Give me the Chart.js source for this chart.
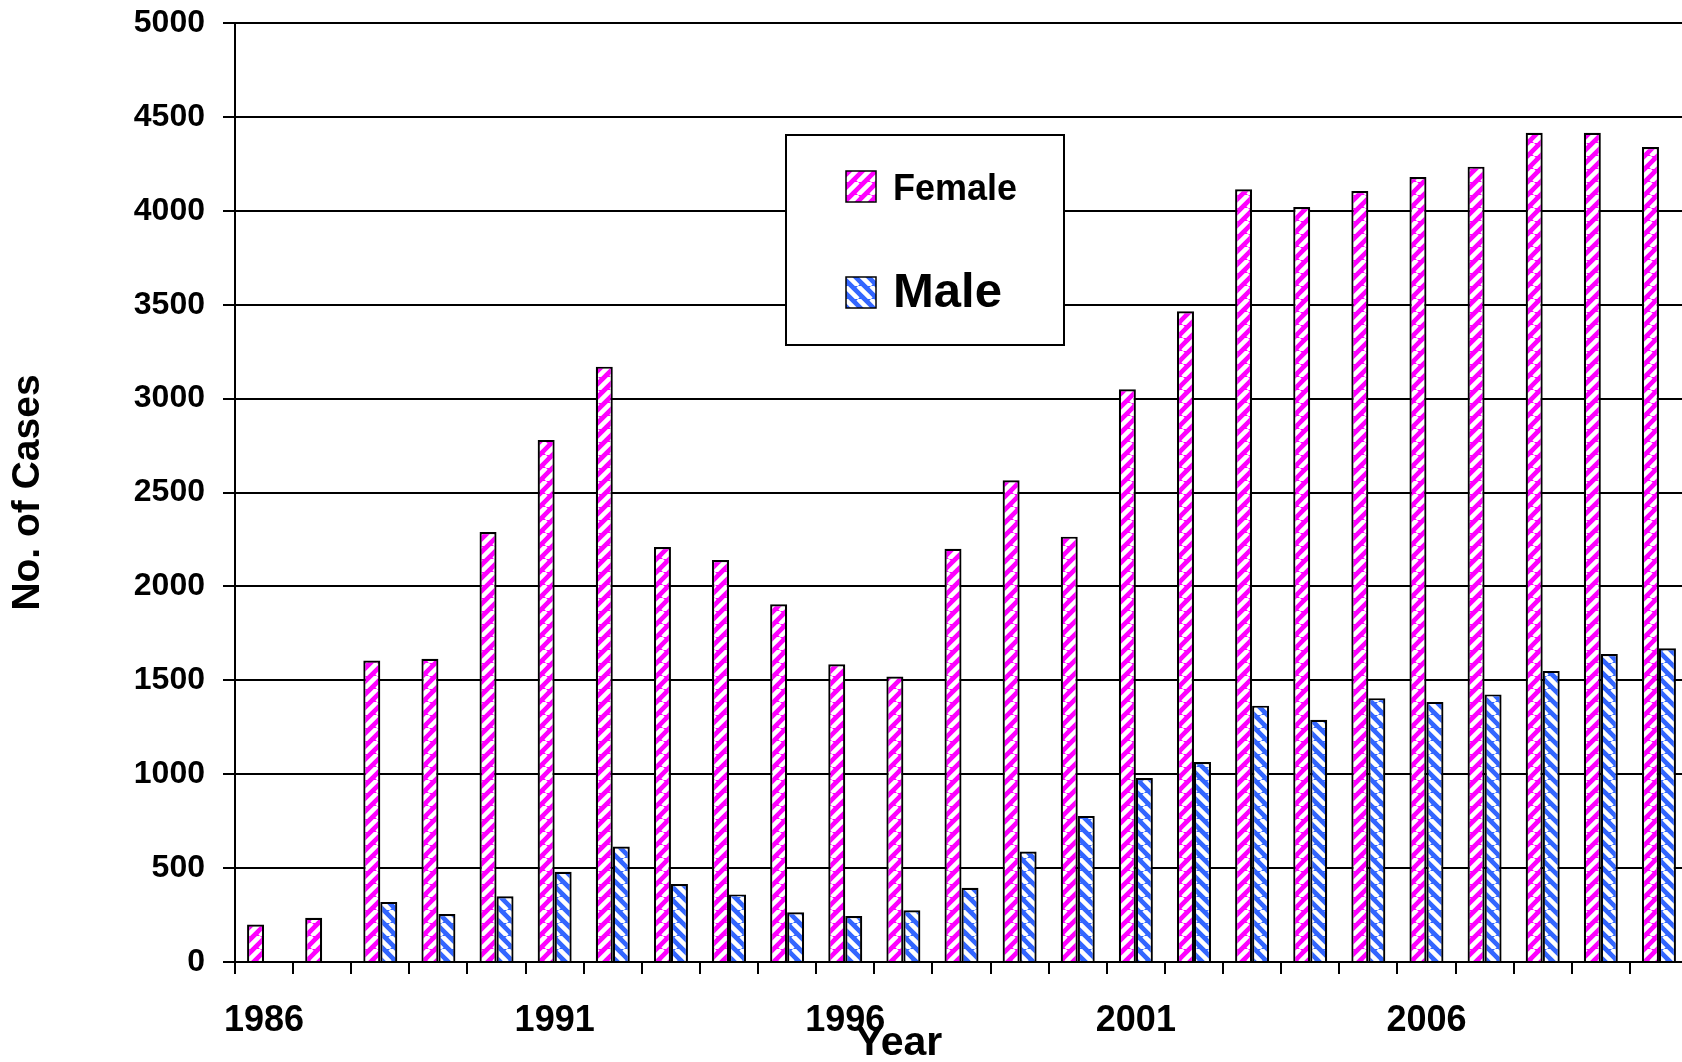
<!doctype html>
<head>
    <title>Cases by year</title>
    <script src="https://cdn.jsdelivr.net/npm/chart.js"></script>
    <style>
        html, body { margin: 0; padding: 0; overflow: hidden; background: #fff; }
        #wrap { position: absolute; left: 0; top: 0; width: 1700px; height: 1062px; }
    </style>
</head>
<body>
<div id="wrap">
    <canvas id="myChart"></canvas>
</div>
</body>

<script>
    const years = ['1986','1987','1988','1989','1990','1991','1992','1993','1994','1995','1996','1997','1998',
                   '1999','2000','2001','2002','2003','2004','2005','2006','2007','2008','2009','2010'];
    const female = [200, 235, 1605, 1615, 2290, 2780, 3170, 2210, 2140, 1905, 1585, 1520, 2200,
                    2565, 2265, 3050, 3465, 4115, 4020, 4105, 4180, 4235, 4415, 4415, 4340];
    const male = [null, null, 320, 255, 350, 480, 615, 415, 360, 265, 245, 275, 395,
                  588, 778, 980, 1065, 1365, 1290, 1405, 1385, 1425, 1550, 1640, 1670];
    const shownYears = ['1986', '1991', '1996', '2001', '2006'];
    const legendNames = ['Female', 'Male'];
    const xTitle = 'Year';

    const FONT = '"Liberation Sans", Arial, sans-serif';

    // striped fills, like the old excel hatch patterns
    function stripes(base, dir) {
        const s = 13;
        const c = document.createElement('canvas');
        c.width = s; c.height = s;
        const g = c.getContext('2d');
        g.fillStyle = base;
        g.fillRect(0, 0, s, s);
        g.strokeStyle = '#fff';
        g.lineWidth = 4.5;
        g.beginPath();
        for (const k of [-s, 0, s]) {
            if (dir === '/') { g.moveTo(k, s); g.lineTo(k + s, 0); }
            else { g.moveTo(k, 0); g.lineTo(k + s, s); }
        }
        g.stroke();
        return g.createPattern(c, 'repeat');
    }

    const ctx = document.getElementById('myChart');
    const femaleFill = stripes('#ff00ff', '/');
    const maleFill = stripes('#3366ff', '\\');

    const boxLegend = {
        id: 'boxLegend',
        afterDraw(chart) {
            const g = chart.ctx;
            g.save();
            g.fillStyle = '#fff';
            g.fillRect(786, 135, 278, 210);
            g.strokeStyle = '#000';
            g.lineWidth = 2;
            g.strokeRect(786, 135, 278, 210);

            const rows = [
                { fill: femaleFill, y: 171, size: 36, ty: 190 },
                { fill: maleFill, y: 277, size: 49, ty: 293 }
            ];
            rows.forEach((r, i) => {
                g.fillStyle = r.fill;
                g.fillRect(846, r.y, 30, 31);
                g.lineWidth = 1.5;
                g.strokeRect(846, r.y, 30, 31);
                g.fillStyle = '#000';
                g.font = 'bold ' + r.size + 'px ' + FONT;
                g.textBaseline = 'middle';
                g.textAlign = 'left';
                g.fillText(legendNames[i], 893, r.ty);
            });

            // x title sits off-centre and overlaps the 1996 label in the original
            g.font = 'bold 41px ' + FONT;
            g.textAlign = 'center';
            g.textBaseline = 'middle';
            g.fillText(xTitle, 899, 1044);
            g.restore();
        }
    };

    new Chart(ctx, {
        type: 'bar',
        data: {
            labels: years,
            datasets: [{
                label: legendNames[0],
                data: female,
                backgroundColor: femaleFill,
                borderColor: '#000',
                borderWidth: 2.2
            },
            {
                label: legendNames[1],
                data: male,
                backgroundColor: maleFill,
                borderColor: '#000',
                borderWidth: 2.2
            }]
        },
        options: {
            responsive: true,
            maintainAspectRatio: false,
            devicePixelRatio: 1,
            animation: false,
            layout: { padding: { top: 23, right: 12, left: 0, bottom: 0 } },
            plugins: {
                legend: { display: false },
                tooltip: { enabled: false }
            },
            datasets: {
                bar: { categoryPercentage: 0.585, barPercentage: 1.0 }
            },
            scales: {
                x: {
                    afterFit: s => { s.height = 100; s.paddingLeft = 0; s.paddingRight = 0; },
                    grid: {
                        offset: true,
                        drawOnChartArea: false,
                        color: '#000',
                        lineWidth: 2,
                        tickLength: 12
                    },
                    border: { color: '#000', width: 2 },
                    ticks: {
                        autoSkip: false,
                        maxRotation: 0,
                        padding: 25,
                        color: '#000',
                        font: { family: FONT, size: 36, weight: 'bold' },
                        callback: function (v, i) {
                            const y = years[i];
                            return shownYears.includes(y) ? y : '';
                        }
                    }
                },
                y: {
                    min: 0,
                    max: 5000,
                    afterFit: s => { s.width = 235; s.paddingTop = 0; s.paddingBottom = 0; },
                    grid: { color: '#000', lineWidth: 2, tickLength: 12 },
                    border: { color: '#000', width: 2 },
                    ticks: {
                        stepSize: 500,
                        padding: 18,
                        color: '#000',
                        font: { family: FONT, size: 32, weight: 'bold' },
                        callback: v => String(v)
                    },
                    title: {
                        display: true,
                        text: 'No. of Cases',
                        color: '#000',
                        font: { family: FONT, size: 39, weight: 'bold' },
                        padding: { top: 5, bottom: 0 }
                    }
                }
            }
        },
        plugins: [boxLegend]
    });
</script>
